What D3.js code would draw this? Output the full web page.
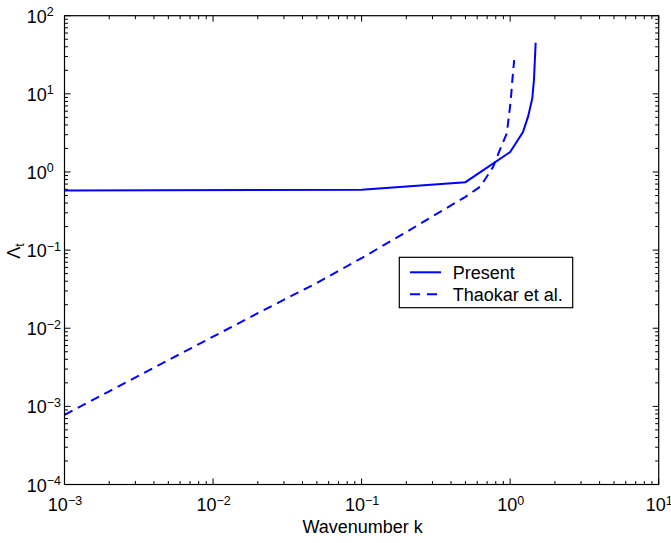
<!DOCTYPE html>
<html><head><meta charset="utf-8">
<script src="https://cdn.jsdelivr.net/npm/d3@7"></script>
<style>body{margin:0;background:#fff}svg{display:block}text{font-family:"Liberation Sans",Arial,sans-serif;fill:#000}</style>
</head><body>
<script>
const presentK = [0.001, 0.1, 0.5, 1.0, 1.22, 1.32, 1.41, 1.446, 1.485];
const presentL = [0.58, 0.59, 0.74, 1.8, 3.25, 5.1, 8.8, 15, 45];
const thaokarK = [0.001, 0.002, 0.005, 0.01, 0.02, 0.05, 0.1, 0.2, 0.3, 0.5, 0.63, 0.77, 0.834, 0.95, 1.01, 1.03, 1.064];
const thaokarL = [7.8e-4, 1.56e-3, 3.9e-3, 7.8e-3, 1.56e-2, 0.038, 0.079, 0.17, 0.27, 0.48, 0.65, 1.17, 1.73, 3.13, 8.3, 13.6, 27];
const xTickExps = [-3, -2, -1, 0, 1];
const yTickExps = [-4, -3, -2, -1, 0, 1, 2];
const seriesNames = ["Present", "Thaokar et al."];
const xLabel = "Wavenumber k";

const W = 671, H = 543;
const L = 64.5, R = 658.7, T = 15.7, B = 484.5;
const svg = d3.select("body").append("svg").attr("width", W).attr("height", H);
const x = d3.scaleLog().domain([1e-3, 1e1]).range([L, R]);
const y = d3.scaleLog().domain([1e-4, 1e2]).range([B, T]);

// minor ticks
const xMinor = x.ticks().filter(v => !xTickExps.some(e => Math.abs(Math.log10(v) - e) < 1e-9));
const yMinor = y.ticks().filter(v => !yTickExps.some(e => Math.abs(Math.log10(v) - e) < 1e-9));
const g = svg.append("g").attr("stroke", "#000").attr("stroke-width", 1).attr("fill", "none");
const maj = 6, mnr = 3.5;
xTickExps.forEach(e => { const px = x(Math.pow(10, e));
  g.append("line").attr("x1", px).attr("x2", px).attr("y1", B).attr("y2", B - maj);
  g.append("line").attr("x1", px).attr("x2", px).attr("y1", T).attr("y2", T + maj); });
xMinor.forEach(v => { const px = x(v);
  g.append("line").attr("x1", px).attr("x2", px).attr("y1", B).attr("y2", B - mnr);
  g.append("line").attr("x1", px).attr("x2", px).attr("y1", T).attr("y2", T + mnr); });
yTickExps.forEach(e => { const py = y(Math.pow(10, e));
  g.append("line").attr("y1", py).attr("y2", py).attr("x1", L).attr("x2", L + maj);
  g.append("line").attr("y1", py).attr("y2", py).attr("x1", R).attr("x2", R - maj); });
yMinor.forEach(v => { const py = y(v);
  g.append("line").attr("y1", py).attr("y2", py).attr("x1", L).attr("x2", L + mnr);
  g.append("line").attr("y1", py).attr("y2", py).attr("x1", R).attr("x2", R - mnr); });

// lines
const line = d3.line().x(d => x(d[0])).y(d => y(d[1]));
svg.append("path").datum(presentK.map((k, i) => [k, presentL[i]]))
  .attr("d", line).attr("fill", "none").attr("stroke", "#0000ff").attr("stroke-width", 2);
svg.append("path").datum(thaokarK.map((k, i) => [k, thaokarL[i]]))
  .attr("d", line).attr("fill", "none").attr("stroke", "#0000ff").attr("stroke-width", 2)
  .attr("stroke-dasharray", "9,6");

// frame
svg.append("rect").attr("x", L).attr("y", T).attr("width", R - L).attr("height", B - T)
  .attr("fill", "none").attr("stroke", "#000").attr("stroke-width", 1.2);

// tick labels
const fs = 18, sfs = 12.5;
function sup(e){ return (e < 0 ? "\u2212" : "") + Math.abs(e); }
xTickExps.forEach(e => {
  const t = svg.append("text").attr("x", x(Math.pow(10, e)) + 0.5).attr("y", 511).attr("text-anchor", "middle").attr("font-size", fs);
  t.append("tspan").text("10");
  t.append("tspan").attr("font-size", sfs).attr("dy", -6.5).text(sup(e));
});
yTickExps.forEach(e => {
  const t = svg.append("text").attr("x", 26.7).attr("y", y(Math.pow(10, e)) + 7).attr("font-size", fs);
  t.append("tspan").text("10");
  t.append("tspan").attr("font-size", sfs).attr("dy", -6.5).text(sup(e));
});

// axis labels
svg.append("text").attr("x", (L + R) / 2 + 1).attr("y", 533).attr("text-anchor", "middle").attr("font-size", fs).text(xLabel);
const yl = svg.append("text").attr("transform", "translate(20,251) rotate(-90)").attr("text-anchor", "middle").attr("font-size", fs);
yl.append("tspan").text("\u039B");
yl.append("tspan").attr("font-size", sfs).attr("dy", 4).text("t");

// legend
const lg = svg.append("g");
lg.append("rect").attr("x", 399.3).attr("y", 257.3).attr("width", 173.4).attr("height", 50.4)
  .attr("fill", "#fff").attr("stroke", "#000").attr("stroke-width", 1.2);
[0, 1].forEach(i => {
  const ly = 272.3 + i * 22;
  lg.append("line").attr("x1", 410).attr("x2", 441).attr("y1", ly).attr("y2", ly)
    .attr("stroke", "#0000ff").attr("stroke-width", 2).attr("stroke-dasharray", i ? "10,7" : null);
  lg.append("text").attr("x", 452.7).attr("y", ly + 6.5).attr("font-size", fs).text(seriesNames[i]);
});
</script>
</body></html>
